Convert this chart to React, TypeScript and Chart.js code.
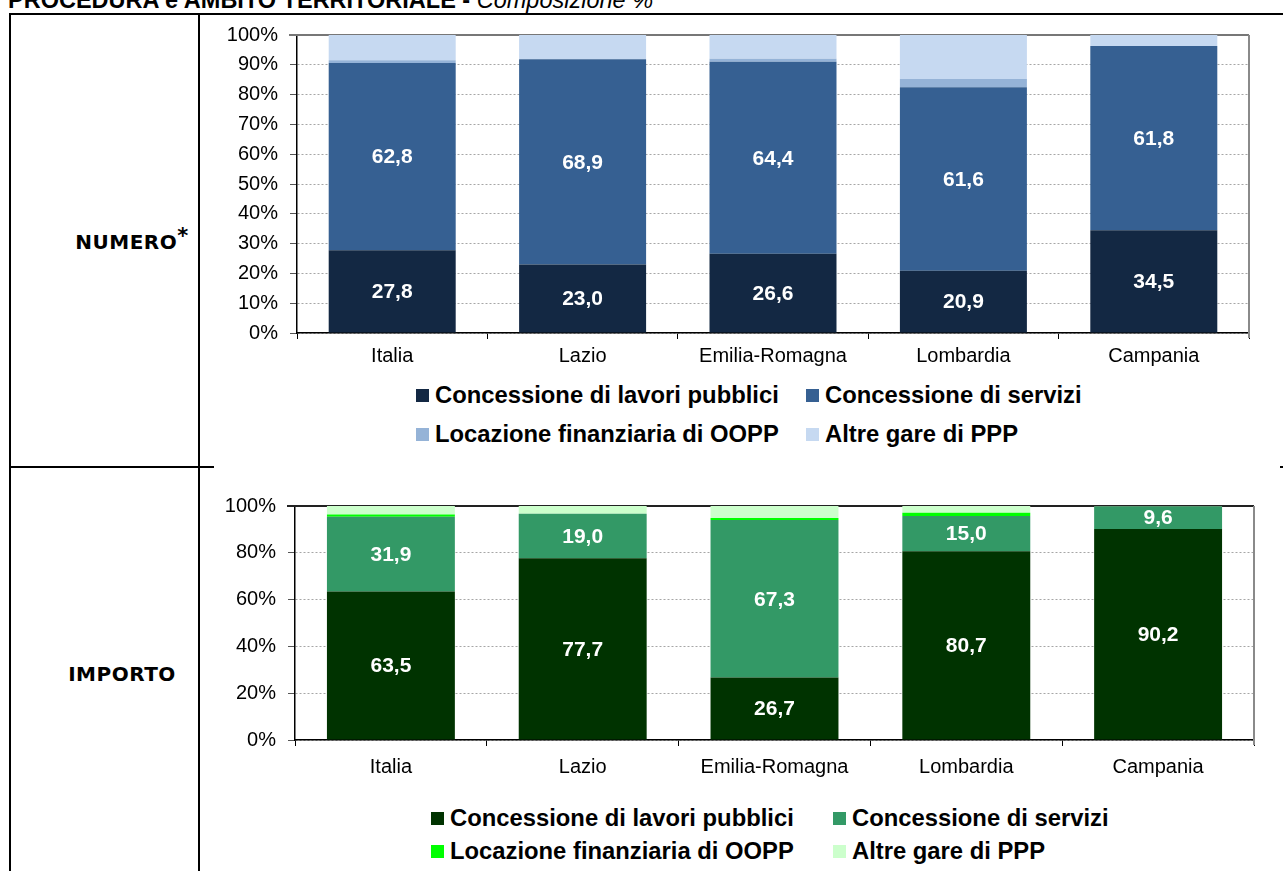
import React, { useEffect, useRef } from "react";
import { Chart, registerables } from "chart.js";

Chart.register(...registerables);

// ---------- DATA ----------
const regions = ["Italia", "Lazio", "Emilia-Romagna", "Lombardia", "Campania"];
const seriesNames = [
  "Concessione di lavori pubblici",
  "Concessione di servizi",
  "Locazione finanziaria di OOPP",
  "Altre gare di PPP",
];

// NUMERO (composizione %)
const numLavori = [27.8, 23.0, 26.6, 20.9, 34.5];
const numServizi = [62.8, 68.9, 64.4, 61.6, 61.8];
const numLocazione = [0.9, 0.0, 1.0, 2.7, 0.0];
const numAltre = [8.5, 8.1, 8.0, 14.8, 3.7];

// IMPORTO (composizione %)
const impLavori = [63.5, 77.7, 26.7, 80.7, 90.2];
const impServizi = [31.9, 19.0, 67.3, 15.0, 9.6];
const impLocazione = [1.0, 0.0, 0.9, 1.4, 0.0];
const impAltre = [3.6, 3.3, 5.1, 2.9, 0.2];

const numStep = 10;
const impStep = 20;

const blueColors = ["#132843", "#366092", "#95B3D7", "#C6D9F1"];
const greenColors = ["#003300", "#339966", "#00FF00", "#CCFFCC"];

const FONT = "'Liberation Sans', Arial, Helvetica, sans-serif";

// ---------- PLUGINS ----------
const valueLabels = {
  id: "valueLabels",
  afterDatasetsDraw(chart: any) {
    const ctx = chart.ctx;
    ctx.save();
    ctx.font = `bold 21px ${FONT}`;
    ctx.fillStyle = "#ffffff";
    ctx.textAlign = "center";
    ctx.textBaseline = "middle";
    [0, 1].forEach((di) => {
      const meta = chart.getDatasetMeta(di);
      meta.data.forEach((bar: any, i: number) => {
        const v = chart.data.datasets[di].data[i] as number;
        const p = bar.getProps(["x", "y", "base"], true);
        const cy = (p.y + p.base) / 2;
        ctx.fillText(v.toFixed(1).replace(".", ","), p.x, cy + 1);
      });
    });
    ctx.restore();
  },
};

const frame = {
  id: "frame",
  beforeDatasetsDraw(chart: any, _args: any, opts: any) {
    const { ctx, chartArea: a } = chart;
    ctx.save();
    ctx.strokeStyle = opts.topColor || "#777";
    ctx.lineWidth = 2;
    ctx.beginPath();
    ctx.moveTo(a.left - 8, a.top);
    ctx.lineTo(a.right, a.top);
    ctx.stroke();
    ctx.restore();
  },
  afterDatasetsDraw(chart: any) {
    const { ctx, chartArea: a } = chart;
    ctx.save();
    ctx.strokeStyle = "#8a8a8a";
    ctx.lineWidth = 2;
    ctx.beginPath();
    ctx.moveTo(a.right, a.top);
    ctx.lineTo(a.right, a.bottom + 5);
    ctx.stroke();
    ctx.restore();
  },
};

// ---------- COMPONENTS ----------
type ChartProps = {
  series: number[][];
  colors: string[];
  step: number;
  left: number;
  top: number;
  width: number;
  height: number;
  padTop: number;
  padRight: number;
  yWidth: number;
  xHeight: number;
  xPad: number;
  topColor: string;
};

function StackedChart(p: ChartProps) {
  const ref = useRef<HTMLCanvasElement | null>(null);
  useEffect(() => {
    if (!ref.current) return;
    const chart = new Chart(ref.current, {
      type: "bar",
      data: {
        labels: regions,
        datasets: p.series.map((d, i) => ({
          label: seriesNames[i],
          data: d,
          backgroundColor: p.colors[i],
          borderWidth: 0,
          barPercentage: 1,
          categoryPercentage: 0.667,
        })),
      },
      options: {
        responsive: false,
        animation: false,
        layout: { padding: { top: p.padTop, right: p.padRight, bottom: 0, left: 0 } },
        plugins: {
          legend: { display: false },
          tooltip: { enabled: false },
          frame: { topColor: p.topColor },
        } as any,
        scales: {
          x: {
            stacked: true,
            grid: {
              display: true,
              drawOnChartArea: false,
              drawTicks: true,
              tickLength: 6,
              tickColor: "#000",
              offset: true,
            },
            border: { display: true, color: "#000", width: 1.5 },
            ticks: {
              color: "#000",
              font: { family: FONT, size: 20 },
              padding: p.xPad,
              maxRotation: 0,
              autoSkip: false,
            },
            afterFit: (s: any) => {
              s.height = p.xHeight;
            },
          },
          y: {
            stacked: true,
            min: 0,
            max: 100,
            grid: {
              color: (c: any) => (c.tick && c.tick.value === 100 ? "rgba(0,0,0,0)" : "#a6a6a6"),
              lineWidth: 1,
              drawTicks: true,
              tickLength: 7,
              tickColor: "#555",
            },
            border: {
              display: true,
              color: "#000",
              width: 1.5,
              dash: [2, 2],
            },
            ticks: {
              stepSize: p.step,
              color: "#000",
              font: { family: FONT, size: 20 },
              padding: 12,
              callback: (v: any) => `${v}%`,
            },
            afterFit: (s: any) => {
              s.width = p.yWidth;
            },
          },
        },
      },
      plugins: [frame, valueLabels],
    });
    return () => chart.destroy();
  }, []);
  return (
    <canvas
      ref={ref}
      width={p.width}
      height={p.height}
      style={{ position: "absolute", left: p.left, top: p.top, width: p.width, height: p.height }}
    />
  );
}

function Legend({ colors, rows, cols }: { colors: string[]; rows: number[]; cols: number[] }) {
  return (
    <>
      {seriesNames.map((name, i) => {
        const r = Math.floor(i / 2);
        const c = i % 2;
        return (
          <div
            key={name}
            style={{
              position: "absolute",
              left: cols[c],
              top: rows[r] - 14,
              height: 28,
              display: "flex",
              alignItems: "center",
              whiteSpace: "nowrap",
              font: `bold 23.8px ${FONT}`,
              color: "#000",
            }}
          >
            <span style={{ display: "inline-block", width: 13, height: 13, background: colors[i], marginRight: 6 }} />
            <span>{name}</span>
          </div>
        );
      })}
    </>
  );
}

const line = (left: number, top: number, width: number, height: number) => (
  <div style={{ position: "absolute", left, top, width, height, background: "#000" }} />
);

const rowLabel: React.CSSProperties = {
  position: "absolute",
  width: 160,
  textAlign: "center",
  font: `bold 20px 'DejaVu Sans', sans-serif`,
  letterSpacing: 0.5,
  color: "#000",
  whiteSpace: "nowrap",
};

export default function App() {
  return (
    <div style={{ position: "absolute", left: 0, top: 0, width: 1283, height: 871, overflow: "hidden", background: "#fff" }}>
      <div
        style={{
          position: "absolute",
          left: 8,
          top: -13,
          whiteSpace: "nowrap",
          font: `bold 23.5px ${FONT}`,
          color: "#000",
        }}
      >
        PROCEDURA e AMBITO TERRITORIALE - <span style={{ fontWeight: "normal", fontStyle: "italic" }}>Composizione %</span>
      </div>

      {/* table lines */}
      {line(9, 13, 1274, 2)}
      {line(9, 13, 2, 858)}
      {line(198, 13, 2, 858)}
      {line(9, 466, 205, 2)}
      {line(1280, 466, 3, 2)}

      <div style={{ ...rowLabel, left: 52, top: 230 }}>
        NUMERO<span style={{ position: "relative", top: -6, fontSize: 21 }}>*</span>
      </div>
      <div style={{ ...rowLabel, left: 42, top: 662 }}>IMPORTO</div>

      <StackedChart
        series={[numLavori, numServizi, numLocazione, numAltre]}
        colors={blueColors}
        step={numStep}
        left={214}
        top={11}
        width={1045}
        height={364}
        padTop={0}
        padRight={10}
        yWidth={83}
        xHeight={42}
        xPad={5}
        topColor="#777"
      />
      <Legend colors={blueColors} rows={[395, 434]} cols={[416, 806]} />

      <StackedChart
        series={[impLavori, impServizi, impLocazione, impAltre]}
        colors={greenColors}
        step={impStep}
        left={214}
        top={478}
        width={1050}
        height={310}
        padTop={28}
        padRight={10}
        yWidth={81}
        xHeight={48}
        xPad={9}
        topColor="#222"
      />
      <Legend colors={greenColors} rows={[818, 851]} cols={[431, 833]} />
    </div>
  );
}
